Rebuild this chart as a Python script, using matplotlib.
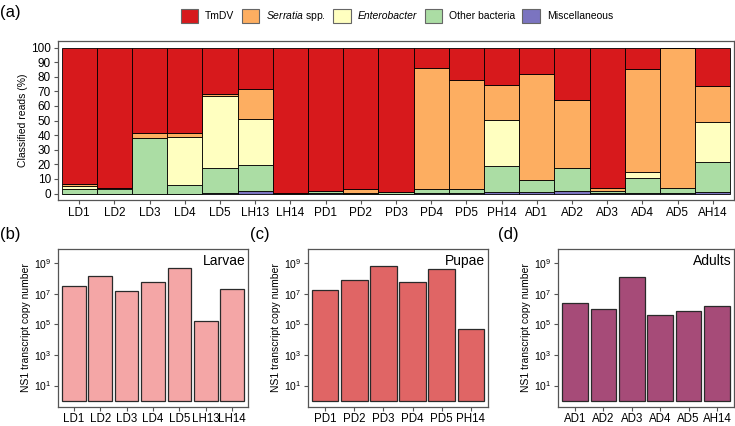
import matplotlib
matplotlib.use("Agg")
import matplotlib.pyplot as plt
from matplotlib.patches import Patch
import numpy as np

plt.rcParams['font.family'] = ['Liberation Sans', 'DejaVu Sans']
plt.rcParams['mathtext.fontset'] = 'custom'
plt.rcParams['mathtext.rm'] = 'Liberation Sans'
plt.rcParams['mathtext.it'] = 'Liberation Sans:italic'

# ---------------- data: panel (a) ----------------
samples = ["LD1", "LD2", "LD3", "LD4", "LD5", "LH13", "LH14", "PD1", "PD2", "PD3",
           "PD4", "PD5", "PH14", "AD1", "AD2", "AD3", "AD4", "AD5", "AH14"]
misc = [0, 0, 0, 0, 0.5, 1.8, 0, 0.2, 0, 0, 0.3, 0.3, 1.4, 0.8, 2.0, 0.3, 0.7, 0.5, 1.0]
other = [3, 3, 38, 5.9, 16.8, 17.8, 0.2, 1.8, 0.5, 0.8, 2.7, 3.1, 17.5, 8.5, 15.3, 1.7, 9.8, 3.1, 20.9]
enterobacter = [2.2, 0.6, 0, 32.6, 49.7, 31.7, 0, 0, 0, 0, 0, 0, 31.4, 0, 0, 0, 4.1, 0, 27.1]
serratia = [1.4, 0, 3.2, 2.7, 1.0, 20.0, 0, 0, 2.5, 0, 83.1, 74.7, 24.0, 72.9, 46.5, 1.6, 70.4, 96.4, 25.0]
tmdv = [93.4, 96.4, 58.8, 58.8, 32.0, 28.7, 99.8, 98.0, 97.0, 99.2, 13.9, 21.9, 25.7, 17.8, 36.2, 96.4, 15.0, 0, 26.0]

series_names = ["Miscellaneous", "Other bacteria", "Enterobacter", "Serratia spp.", "TmDV"]
series_vals = [misc, other, enterobacter, serratia, tmdv]
series_cols = ["#7B74C0", "#ABDDA4", "#FFFFC0", "#FDAE61", "#D7191C"]

# ---------------- data: panels (b)-(d) ----------------
larvae_labels = ["LD1", "LD2", "LD3", "LD4", "LD5", "LH13", "LH14"]
larvae_vals = [3.2e7, 1.4e8, 1.5e7, 5.9e7, 5.0e8, 1.8e5, 2.2e7]
pupae_labels = ["PD1", "PD2", "PD3", "PD4", "PD5", "PH14"]
pupae_vals = [1.9e7, 8.0e7, 6.4e8, 5.6e7, 3.9e8, 5.0e4]
adult_labels = ["AD1", "AD2", "AD3", "AD4", "AD5", "AH14"]
adult_vals = [2.6e6, 1.05e6, 1.2e8, 4.1e5, 7.4e5, 1.7e6]

W, H = 735, 426
fig = plt.figure(figsize=(W / 100, H / 100), dpi=100)

def ax_px(l, t, r, b):
    return fig.add_axes([l / W, 1 - b / H, (r - l) / W, (b - t) / H])

frame_col = "#555555"

def style(ax):
    for s in ax.spines.values():
        s.set_color(frame_col)
        s.set_linewidth(0.9)
    ax.tick_params(direction="out", length=3, width=0.8, color=frame_col,
                   labelsize=8.5, pad=2, labelcolor="black")

# ---------------- panel (a) ----------------
axa = ax_px(58, 41, 734, 200)
x = np.arange(len(samples))
bottom = np.zeros(len(samples))
for name, vals, col in zip(series_names, series_vals, series_cols):
    v = np.array(vals, dtype=float)
    axa.bar(x, v, bottom=bottom, width=1.0, color=col, edgecolor="black",
            linewidth=0.6, label=name)
    bottom += v
axa.set_xlim(-0.6, len(samples) - 0.4)
axa.set_ylim(-4.4, 104.5)
axa.set_yticks(np.arange(0, 101, 10))
axa.set_xticks(x)
axa.set_xticklabels(samples)
axa.set_ylabel("Classified reads (%)", fontsize=7.5, labelpad=2)
style(axa)
axa.tick_params(axis="x", labelsize=8.5)

handles = [Patch(facecolor=c, edgecolor="#666666", linewidth=0.8)
           for c in series_cols[::-1]]
labels = ["TmDV", r"$\it{Serratia}$ spp.", "Enterobacter", "Other bacteria", "Miscellaneous"]
leg = fig.legend(handles, labels, loc="center", bbox_to_anchor=(397 / W, 1 - 16 / H),
                 ncol=5, frameon=False, fontsize=7.5, handlelength=1.65, handleheight=1.65,
                 handletextpad=0.7, columnspacing=0.7, borderpad=0)
leg.get_texts()[2].set_fontstyle("italic")

fig.text(0 / W, 1 - 12 / H, "(a)", fontsize=12, va="center", ha="left")

# ---------------- bottom panels ----------------
def logpanel(ax, labels_, vals_, col, title):
    xs = np.arange(1, len(labels_) + 1)
    base = 1.0
    heights = np.array(vals_) - base
    ax.bar(xs, heights, bottom=base, width=0.9, color=col, edgecolor="#2a2a2a",
           linewidth=0.9)
    ax.set_yscale("log")
    ax.set_ylim(10 ** -0.4, 10 ** 9.93)
    ax.set_xlim(0.4, len(labels_) + 0.6)
    ax.set_yticks([1e1, 1e3, 1e5, 1e7, 1e9])
    ax.set_yticklabels([r"$\mathregular{10^{%d}}$" % k for k in (1, 3, 5, 7, 9)])
    ax.minorticks_off()
    ax.set_xticks(xs)
    ax.set_xticklabels(labels_)
    ax.set_ylabel("NS1 transcript copy number", fontsize=7.5, labelpad=2)
    style(ax)
    ax.tick_params(axis="x", labelsize=8.3, pad=1.5)
    ax.tick_params(axis="y", labelsize=7.5)
    ax.text(0.985, 0.97, title, transform=ax.transAxes, ha="right", va="top", fontsize=10)

axb = ax_px(58, 249, 248, 407)
logpanel(axb, larvae_labels, larvae_vals, "#F4A6A6", "Larvae")
axc = ax_px(308, 249, 488, 407)
logpanel(axc, pupae_labels, pupae_vals, "#E06565", "Pupae")
axd = ax_px(558, 249, 734, 407)
logpanel(axd, adult_labels, adult_vals, "#A64B78", "Adults")

fig.text(0 / W, 1 - 235 / H, "(b)", fontsize=12, va="center", ha="left")
fig.text(250 / W, 1 - 235 / H, "(c)", fontsize=12, va="center", ha="left")
fig.text(498 / W, 1 - 235 / H, "(d)", fontsize=12, va="center", ha="left")

fig.savefig("out.png", dpi=100)
